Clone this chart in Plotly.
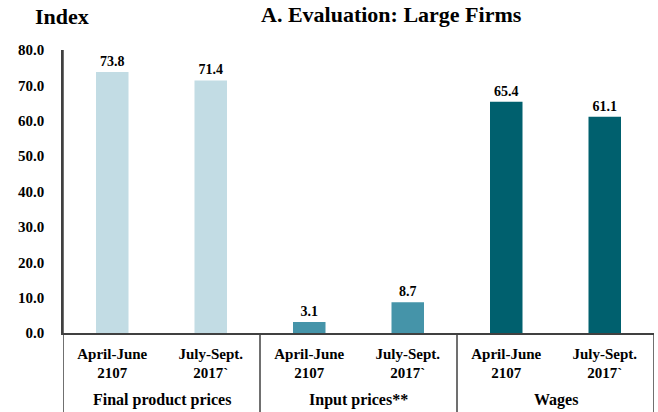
import plotly.graph_objects as go

periods = ["April-June<br>2107", "July-Sept.<br>2017`"]
groups = ["Final product prices", "Input prices**", "Wages"]
values = [73.8, 71.4, 3.1, 8.7, 65.4, 61.1]
colors = ["#C2DCE4", "#C2DCE4", "#4594A9", "#4594A9", "#00606E", "#00606E"]
yticks = [0, 10, 20, 30, 40, 50, 60, 70, 80]

FONT = "Liberation Serif"
xs = list(range(len(values)))
ticktext = periods * len(groups)

def f(size):
    return dict(family=FONT, size=size, color="black", weight="bold")

fig = go.Figure()
fig.add_trace(go.Bar(
    x=xs, y=values, marker=dict(color=colors, line=dict(width=0)),
    width=0.33,
    text=[f"{v:.1f}" for v in values], textposition="outside",
    textfont=f(14),
    cliponaxis=False,
))

shapes = []
shapes.append(dict(type="line", xref="x", yref="paper", x0=-0.5, x1=-0.5, y0=-0.28, y1=1,
                   line=dict(color="#404040", width=1.5)))
for sx in [1.5, 3.5, 5.5]:
    shapes.append(dict(type="line", xref="x", yref="paper", x0=sx, x1=sx, y0=-0.28, y1=0,
                       line=dict(color="#404040", width=1.5)))

annotations = []
for i, g in enumerate(groups):
    annotations.append(dict(x=2 * i + 0.5, xref="x", y=-0.237, yref="paper", text=g,
                            showarrow=False, yanchor="middle", font=f(16)))
annotations.append(dict(x=-0.051, xref="paper", y=1.117, yref="paper", text="Index", showarrow=False,
                        xanchor="left", yanchor="middle", font=f(22)))
annotations.append(dict(x=0.555, xref="paper", y=1.175, yref="paper", text="A. Evaluation: Large Firms",
                        showarrow=False, xanchor="center", yanchor="top", font=f(22)))

fig.update_layout(
    width=658, height=412,
    margin=dict(l=63, r=4, t=50, b=79),
    paper_bgcolor="white", plot_bgcolor="white",
    showlegend=False,
    font=dict(family=FONT, color="black"),
    xaxis=dict(range=[-0.5, 5.5], tickmode="array", tickvals=xs, ticktext=ticktext,
               showline=True, linecolor="#404040", linewidth=1.5, ticks="",
               tickfont=f(15), showgrid=False, zeroline=False,
               automargin=False, ticklabelstandoff=6),
    yaxis=dict(range=[0, 80], tickmode="array", tickvals=yticks, tickformat=".1f",
               showline=True, linecolor="#404040", linewidth=1.5, ticks="",
               showgrid=False, zeroline=False, ticklabelstandoff=14,
               automargin=False, tickfont=f(15)),
    shapes=shapes, annotations=annotations,
)

fig.write_html("out.html", config={"displayModeBar": False},
               post_script="document.body.style.margin='0';document.body.style.overflow='hidden';")
